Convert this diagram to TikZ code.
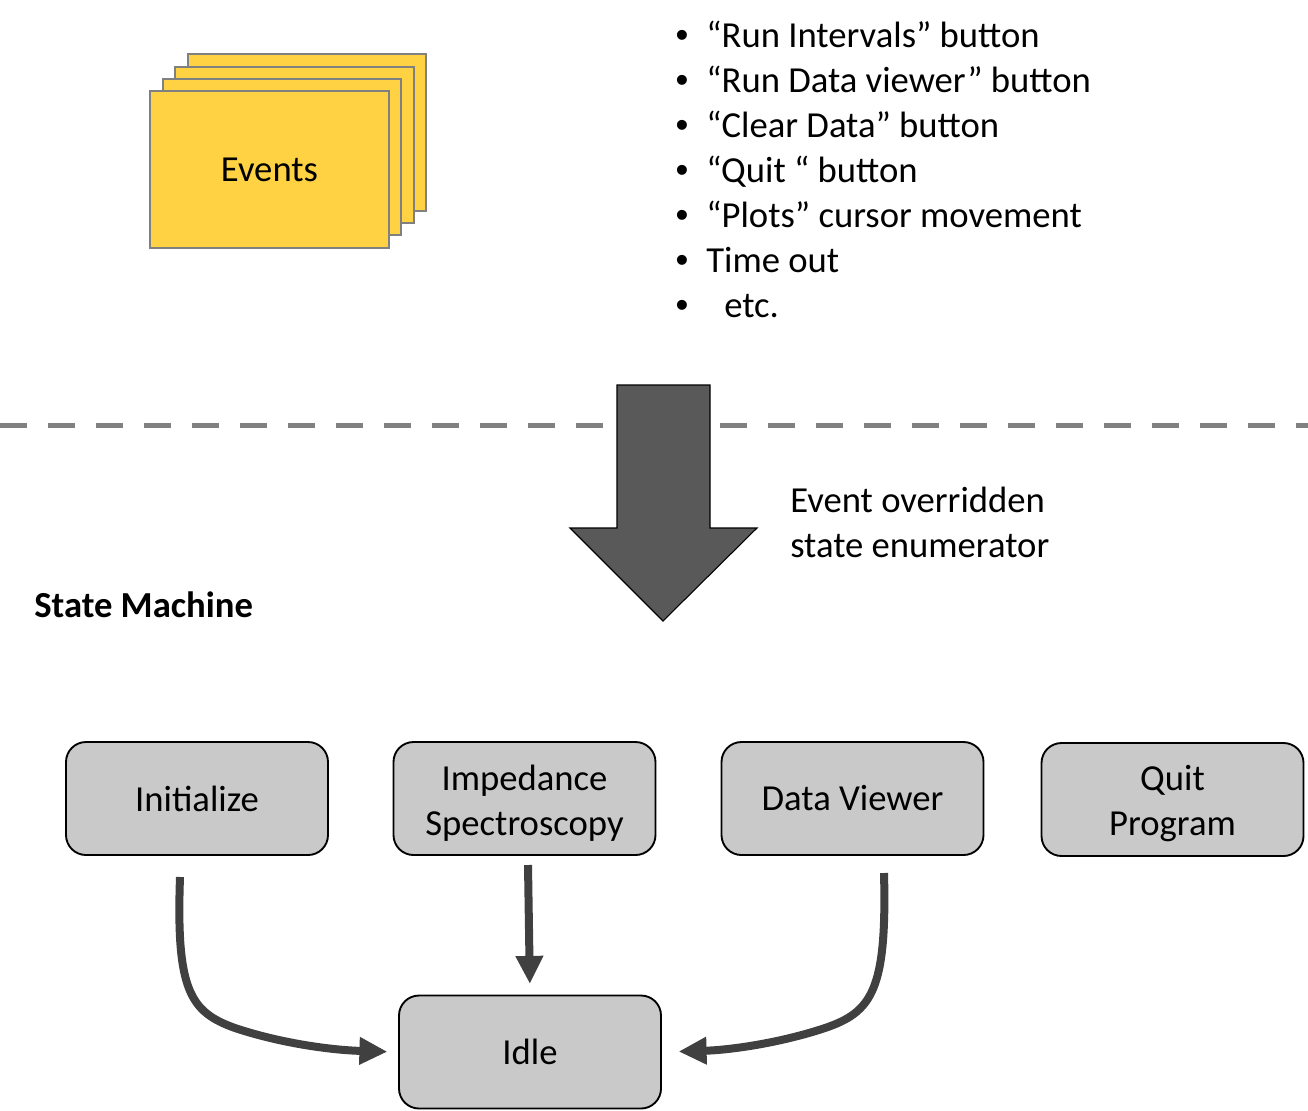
\documentclass[tikz,border=0pt]{standalone}
\usepackage{fontspec}
\setmainfont{Carlito}
\newfontfamily\bulfont{Liberation Sans}
\usetikzlibrary{arrows.meta}
\definecolor{evyellow}{HTML}{FFD243}
\definecolor{evborder}{HTML}{808080}
\definecolor{boxfill}{HTML}{C9C9C9}
\definecolor{bigarrow}{HTML}{595959}
\definecolor{conncol}{HTML}{404040}
\newcommand\mytopstrut{\rule{0pt}{25.5pt}}
\begin{document}
\begin{tikzpicture}[x=0.75pt,y=-0.75pt,
  every node/.style={font=\fontsize{27.5}{33.75}\selectfont, inner sep=0pt},
  evcard/.style={draw=evborder, line width=2.2pt, fill=evyellow},
  statebox/.style={draw=black, line width=1.4pt, fill=boxfill, rounded corners=15pt,
    minimum width=196.5pt, minimum height=84.75pt, align=center},
  conn/.style={draw=conncol, line width=6pt, -{Triangle[length=21pt,width=19.5pt]}},
  item/.style={anchor=base west}
]
\useasboundingbox (0,0) rectangle (1308,1110);

% dashed separator
\draw[evborder, line width=3.75pt, dash pattern=on 20.25pt off 15.75pt] (0,425) -- (1308,425);

% events stack
\draw[evcard] (188,54) rectangle (426,211);
\draw[evcard] (175,67) rectangle (414,223);
\draw[evcard] (163,79) rectangle (401,235);
\draw[evcard] (150,91) rectangle (389,248);
\node (events) at (269.5,169.5) {Events};

% bullet list
\foreach \t/\y [count=\i] in {{“Run Intervals” button}/47,{“Run Data viewer” button}/92,{“Clear Data” button}/137,{“Quit “ button}/182,{“Plots” cursor movement}/227,{Time out}/272,{\hspace{13.5pt}etc.}/317}{
  \node[anchor=base] (bul\i) at (682,\y) {\bulfont •};
  \node[item] (itm\i) at (706,\y) {\t};
}

% big arrow
\draw[fill=bigarrow, draw=black, line width=0.8pt]
  (617,385) -- (710,385) -- (710,528) -- (757,528) -- (663,621) -- (570,528) -- (617,528) -- cycle;

\node[anchor=west, align=left] (override) at (790,522.5) {Event overridden\\state enumerator};
\node[anchor=west, font=\fontsize{27.5}{33.75}\selectfont\bfseries] (sm) at (34,605) {State Machine};

% states
\node[statebox] (init) at (197,798.5) {Initialize};
\node[statebox] (imp) at (524.5,798.5) {\mytopstrut Impedance\\Spectroscopy};
\node[statebox] (dv) at (852.5,798.5) {Data Viewer};
\node[statebox] (quit) at (1172.5,799.5) {\mytopstrut Quit\\Program};
\node[statebox] (idle) at (530,1052) {Idle};

% connectors
\coordinate (s1) at (180,877);
\coordinate (s2) at (528,865);
\coordinate (s3) at (884,873);
\draw[conn, shorten >=8pt] (s1) .. controls (176,990) and (190,1012) .. (235,1028)
  .. controls (280,1043) and (330,1050) .. (idle.west);
\draw[conn, shorten >=8pt] (s2) -- (idle.north);
\draw[conn, shorten >=12.5pt] (s3) .. controls (887,990) and (872,1012) .. (825,1028)
  .. controls (780,1043) and (730,1050) .. (idle.east);
\end{tikzpicture}
\end{document}
